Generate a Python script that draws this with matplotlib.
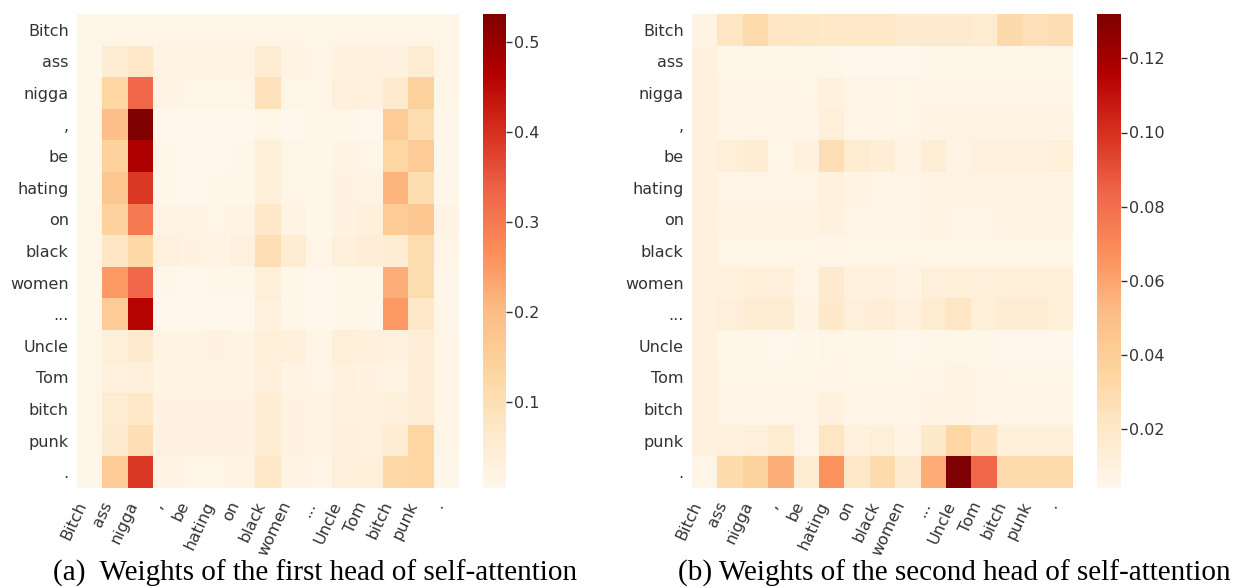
import numpy as np
import matplotlib
matplotlib.use("Agg")
import matplotlib.pyplot as plt

tokens = ["Bitch", "ass", "nigga", ",", "be", "hating", "on", "black",
          "women", "...", "Uncle", "Tom", "bitch", "punk", "."]

head1 = [
    [0.015, 0.015, 0.015, 0.015, 0.015, 0.015, 0.015, 0.015, 0.015, 0.015, 0.015, 0.015, 0.015, 0.015, 0.015],
    [0.010, 0.050, 0.070, 0.020, 0.020, 0.020, 0.020, 0.050, 0.020, 0.015, 0.030, 0.030, 0.025, 0.050, 0.015],
    [0.010, 0.130, 0.330, 0.020, 0.015, 0.015, 0.015, 0.090, 0.015, 0.015, 0.035, 0.030, 0.060, 0.140, 0.015],
    [0.010, 0.190, 0.531, 0.008, 0.008, 0.008, 0.008, 0.015, 0.008, 0.010, 0.010, 0.005, 0.160, 0.110, 0.010],
    [0.010, 0.140, 0.470, 0.010, 0.008, 0.008, 0.010, 0.040, 0.015, 0.010, 0.020, 0.015, 0.130, 0.160, 0.010],
    [0.010, 0.170, 0.390, 0.010, 0.008, 0.010, 0.010, 0.040, 0.015, 0.010, 0.025, 0.020, 0.210, 0.110, 0.010],
    [0.015, 0.140, 0.300, 0.020, 0.020, 0.015, 0.020, 0.070, 0.020, 0.010, 0.025, 0.035, 0.160, 0.170, 0.020],
    [0.015, 0.080, 0.120, 0.030, 0.025, 0.020, 0.030, 0.100, 0.050, 0.015, 0.035, 0.045, 0.050, 0.110, 0.015],
    [0.010, 0.250, 0.330, 0.010, 0.005, 0.010, 0.010, 0.040, 0.010, 0.005, 0.010, 0.010, 0.220, 0.110, 0.010],
    [0.010, 0.160, 0.460, 0.004, 0.004, 0.004, 0.005, 0.030, 0.010, 0.005, 0.010, 0.010, 0.250, 0.070, 0.010],
    [0.015, 0.040, 0.060, 0.020, 0.020, 0.025, 0.020, 0.040, 0.035, 0.015, 0.040, 0.035, 0.030, 0.045, 0.015],
    [0.015, 0.030, 0.035, 0.020, 0.020, 0.020, 0.020, 0.035, 0.020, 0.015, 0.030, 0.025, 0.020, 0.045, 0.015],
    [0.015, 0.050, 0.070, 0.025, 0.025, 0.025, 0.025, 0.050, 0.025, 0.020, 0.030, 0.030, 0.035, 0.045, 0.015],
    [0.015, 0.060, 0.100, 0.025, 0.025, 0.025, 0.025, 0.050, 0.025, 0.020, 0.035, 0.030, 0.050, 0.130, 0.015],
    [0.010, 0.160, 0.390, 0.020, 0.015, 0.015, 0.020, 0.070, 0.020, 0.015, 0.035, 0.040, 0.120, 0.130, 0.010],
]

head2 = [
    [0.008, 0.022, 0.030, 0.022, 0.021, 0.020, 0.020, 0.020, 0.018, 0.018, 0.017, 0.016, 0.031, 0.026, 0.028],
    [0.010, 0.005, 0.005, 0.005, 0.005, 0.005, 0.004, 0.004, 0.004, 0.005, 0.005, 0.005, 0.005, 0.005, 0.005],
    [0.010, 0.007, 0.007, 0.007, 0.006, 0.010, 0.007, 0.007, 0.006, 0.007, 0.007, 0.007, 0.007, 0.007, 0.007],
    [0.010, 0.007, 0.007, 0.007, 0.007, 0.012, 0.007, 0.007, 0.006, 0.008, 0.008, 0.008, 0.008, 0.008, 0.008],
    [0.010, 0.013, 0.015, 0.006, 0.010, 0.027, 0.016, 0.014, 0.008, 0.014, 0.008, 0.010, 0.011, 0.010, 0.013],
    [0.010, 0.007, 0.007, 0.007, 0.007, 0.010, 0.009, 0.007, 0.007, 0.008, 0.008, 0.008, 0.008, 0.008, 0.008],
    [0.010, 0.008, 0.008, 0.008, 0.008, 0.010, 0.007, 0.007, 0.007, 0.008, 0.007, 0.007, 0.008, 0.008, 0.008],
    [0.010, 0.006, 0.006, 0.006, 0.006, 0.007, 0.006, 0.006, 0.006, 0.006, 0.006, 0.006, 0.006, 0.006, 0.006],
    [0.010, 0.010, 0.013, 0.012, 0.007, 0.017, 0.010, 0.010, 0.009, 0.012, 0.013, 0.012, 0.013, 0.013, 0.013],
    [0.010, 0.012, 0.015, 0.015, 0.008, 0.019, 0.012, 0.014, 0.011, 0.016, 0.022, 0.013, 0.015, 0.015, 0.013],
    [0.010, 0.005, 0.005, 0.004, 0.005, 0.006, 0.005, 0.005, 0.004, 0.005, 0.005, 0.005, 0.004, 0.004, 0.004],
    [0.010, 0.006, 0.006, 0.006, 0.006, 0.007, 0.006, 0.006, 0.006, 0.007, 0.008, 0.007, 0.006, 0.006, 0.006],
    [0.010, 0.007, 0.007, 0.007, 0.007, 0.010, 0.007, 0.007, 0.007, 0.008, 0.008, 0.007, 0.007, 0.007, 0.007],
    [0.010, 0.010, 0.012, 0.016, 0.007, 0.022, 0.010, 0.013, 0.008, 0.019, 0.034, 0.024, 0.013, 0.013, 0.013],
    [0.006, 0.030, 0.036, 0.056, 0.016, 0.066, 0.020, 0.030, 0.017, 0.057, 0.132, 0.083, 0.030, 0.030, 0.030],
]

captions = ["(a)  Weights of the first head of self-attention",
            "(b) Weights of the second head of self-attention"]
cbar_ticks = [[0.1, 0.2, 0.3, 0.4, 0.5],
              [0.02, 0.04, 0.06, 0.08, 0.10, 0.12]]
cbar_fmt = ["{:.1f}", "{:.2f}"]

W, H = 1236, 588
fig = plt.figure(figsize=(W / 100, H / 100), dpi=100)
txt = "#333333"
fs = 11.5

def box(x0, x1, y0, y1):
    return [x0 / W, 1 - y1 / H, (x1 - x0) / W, (y1 - y0) / H]

layouts = [
    (box(77, 459, 14, 488), box(483, 506, 14, 488)),
    (box(692, 1073, 14, 488), box(1097, 1121, 14, 488)),
]
caption_x = [315, 954]

for k, data in enumerate([head1, head2]):
    arr = np.array(data)
    ax = fig.add_axes(layouts[k][0])
    cax = fig.add_axes(layouts[k][1])
    mesh = ax.pcolormesh(arr, cmap="OrRd", vmin=arr.min(), vmax=arr.max())
    ax.set_xlim(0, len(tokens))
    ax.set_ylim(len(tokens), 0)
    ax.set_xticks(np.arange(len(tokens)) + 0.5)
    ax.set_yticks(np.arange(len(tokens)) + 0.5)
    ax.set_xticklabels(tokens, rotation=65, ha="right", fontsize=fs, color=txt,
                       family="DejaVu Sans")
    ax.set_yticklabels(tokens, fontsize=fs, color=txt, family="DejaVu Sans")
    ax.tick_params(length=0, pad=6)
    ax.tick_params(axis="x", pad=8)
    for s in ax.spines.values():
        s.set_visible(False)
    cb = fig.colorbar(mesh, cax=cax)
    cb.outline.set_visible(False)
    cb.set_ticks(cbar_ticks[k])
    cb.set_ticklabels([cbar_fmt[k].format(t) for t in cbar_ticks[k]])
    cax.tick_params(length=4, width=1, color=txt, labelcolor=txt, labelsize=fs, pad=2)
    fig.text(caption_x[k] / W, 1 - 573 / H, captions[k], ha="center", va="center",
             fontsize=21, family="Liberation Serif", color="black")

fig.savefig("out.png", dpi=100)
